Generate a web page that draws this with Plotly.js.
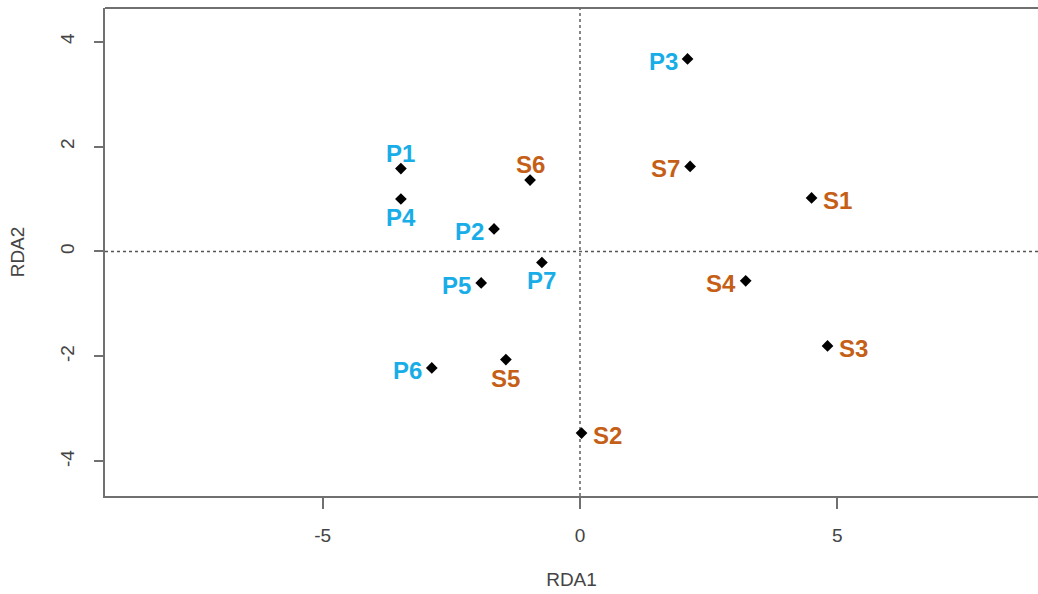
<!DOCTYPE html>
<html>
<head>
<meta charset="utf-8">
<script src="https://cdn.plot.ly/plotly-3.0.1.min.js"></script>
<style>html,body{margin:0;padding:0;background:#fff;}#chart{width:1038px;height:594px;}</style>
</head>
<body>
<div id="chart"></div>
<script>
// Sites (blue, P) and samples (orange, S) scores on RDA1 / RDA2
const pLabels = ["P1", "P2", "P3", "P4", "P5", "P6", "P7"];
const pRDA1 = [-3.48, -1.67, 2.09, -3.48, -1.92, -2.88, -0.74];
const pRDA2 = [1.58, 0.43, 3.67, 1.00, -0.60, -2.22, -0.21];

const sLabels = ["S1", "S2", "S3", "S4", "S5", "S6", "S7"];
const sRDA1 = [4.50, 0.03, 4.81, 3.22, -1.44, -0.97, 2.14];
const sRDA2 = [1.02, -3.46, -1.80, -0.56, -2.06, 1.36, 1.62];

const xTicks = [-5, 0, 5];
const yTicks = [-4, -2, 0, 2, 4];

// label placement (style): side of the point where the label sits
const pSide = ["top", "left", "left", "bottom", "left", "left", "bottom"];
const sSide = ["right", "right", "right", "left", "bottom", "top", "left"];

const blue = "#19ADE8";
const orange = "#C55F17";
const fam = "Liberation Sans, Arial, sans-serif";

const sideStyle = {
  left:   {xanchor: "right",  yanchor: "middle", xshift: -8,  yshift: -2.5},
  right:  {xanchor: "left",   yanchor: "middle", xshift: 9,   yshift: -2.5},
  top:    {xanchor: "center", yanchor: "middle", xshift: 0,   yshift: 15.5},
  bottom: {xanchor: "center", yanchor: "middle", xshift: 0,   yshift: -18.5}
};

function makeLabels(xs, ys, labels, sides, color) {
  return labels.map((t, i) => Object.assign({
    x: xs[i], y: ys[i], xref: "x", yref: "y", text: t, showarrow: false,
    font: {family: fam, size: 24, weight: "bold", color: color}
  }, sideStyle[sides[i]]));
}

const traces = [
  {
    x: pRDA1, y: pRDA2, text: pLabels, mode: "markers", type: "scatter",
    marker: {symbol: "diamond", size: 9, color: "#000"},
    hoverinfo: "text+x+y", showlegend: false
  },
  {
    x: sRDA1, y: sRDA2, text: sLabels, mode: "markers", type: "scatter",
    marker: {symbol: "diamond", size: 9, color: "#000"},
    hoverinfo: "text+x+y", showlegend: false
  }
];

const axisFont = {family: fam, size: 19, color: "#444"};

const layout = {
  width: 1038, height: 594,
  margin: {l: 105, r: 0, t: 8, b: 98},
  paper_bgcolor: "#fff", plot_bgcolor: "#fff",
  font: axisFont,
  xaxis: {
    range: [-9.23, 8.90],
    tickvals: xTicks, ticktext: xTicks.map(String),
    showgrid: false, zeroline: false,
    showline: true, linecolor: "#707070", linewidth: 2,
    ticks: "outside", ticklen: 11, tickwidth: 2, tickcolor: "#707070",
    ticklabelstandoff: 10,
    tickfont: axisFont,
    title: {text: "RDA1", font: axisFont, standoff: 28}
  },
  yaxis: {
    range: [-4.66, 4.64],
    tickvals: yTicks, ticktext: yTicks.map(String),
    tickangle: -90,
    showgrid: false, zeroline: false,
    showline: true, linecolor: "#707070", linewidth: 2,
    ticks: "outside", ticklen: 9, tickwidth: 2, tickcolor: "#707070",
    ticklabelstandoff: 12,
    tickfont: axisFont,
    title: {text: "RDA2", font: axisFont, standoff: 28}
  },
  annotations: makeLabels(pRDA1, pRDA2, pLabels, pSide, blue)
    .concat(makeLabels(sRDA1, sRDA2, sLabels, sSide, orange)),
  shapes: [
    {type: "line", xref: "paper", yref: "paper", x0: 0, x1: 1, y0: 1, y1: 1,
     line: {color: "#707070", width: 2}},
    {type: "line", xref: "x", yref: "paper", x0: 0, x1: 0, y0: 0, y1: 1,
     line: {color: "#555", width: 1.4, dash: "dot"}, layer: "below"},
    {type: "line", xref: "paper", yref: "y", x0: 0, x1: 1, y0: 0, y1: 0,
     line: {color: "#555", width: 1.4, dash: "dot"}, layer: "below"}
  ]
};

Plotly.newPlot("chart", traces, layout, {displayModeBar: false, staticPlot: true});
</script>
</body>
</html>
